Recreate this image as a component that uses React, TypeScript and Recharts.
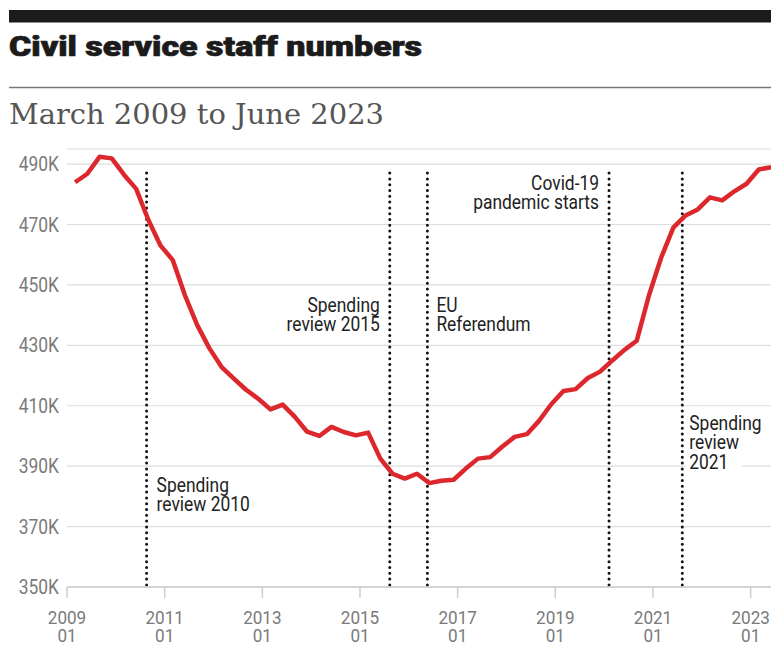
import { CartesianGrid, Line, LineChart, ReferenceLine, XAxis, YAxis } from "recharts";

// quarterly headcount, thousands
const dates = [
  "2009-03", "2009-06", "2009-09", "2009-12",
  "2010-03", "2010-06", "2010-09", "2010-12",
  "2011-03", "2011-06", "2011-09", "2011-12",
  "2012-03", "2012-06", "2012-09", "2012-12",
  "2013-03", "2013-06", "2013-09", "2013-12",
  "2014-03", "2014-06", "2014-09", "2014-12",
  "2015-03", "2015-06", "2015-09", "2015-12",
  "2016-03", "2016-06", "2016-09", "2016-12",
  "2017-03", "2017-06", "2017-09", "2017-12",
  "2018-03", "2018-06", "2018-09", "2018-12",
  "2019-03", "2019-06", "2019-09", "2019-12",
  "2020-03", "2020-06", "2020-09", "2020-12",
  "2021-03", "2021-06", "2021-09", "2021-12",
  "2022-03", "2022-06", "2022-09", "2022-12",
  "2023-03", "2023-06",
];

const staff = [
  484.0, 486.8, 492.4, 491.9,
  486.5, 481.8, 471.5, 463.0,
  458.2, 446.5, 436.7, 429.0,
  422.8, 419.0, 415.3, 412.3,
  408.8, 410.4, 406.3, 401.4,
  400.0, 403.0, 401.3, 400.2,
  401.1, 392.5, 387.5, 385.9,
  387.5, 384.4, 385.2, 385.5,
  389.2, 392.5, 393.0, 396.5,
  399.7, 400.6, 405.0, 410.5,
  414.9, 415.5, 419.2, 421.3,
  425.0, 428.5, 431.5, 446.5,
  459.0, 469.0, 473.0, 475.0,
  479.0, 478.0, 481.0, 483.5,
  488.2, 489.0,
];

const yTicks = [350, 370, 390, 410, 430, 450, 470, 490];
const xTicks = [2009, 2011, 2013, 2015, 2017, 2019, 2021, 2023];

const eventDates = [2010.63, 2015.61, 2016.38, 2020.1, 2021.6];
const eventLabels = [
  ["Spending", "review 2010"],
  ["Spending", "review 2015"],
  ["EU", "Referendum"],
  ["Covid-19", "pandemic starts"],
  ["Spending", "review", "2021"],
];

// label placement: side of the line, offset, first baseline (chart px)
const labelLayout = [
  { anchor: "start", dx: 10, y: 352, bg: false },
  { anchor: "end", dx: -10, y: 171.5, bg: false },
  { anchor: "start", dx: 9, y: 171.5, bg: false },
  { anchor: "end", dx: -10, y: 50, bg: false },
  { anchor: "start", dx: 7, y: 290, bg: true },
];

const toYear = (d: string) => {
  const [y, m] = d.split("-").map(Number);
  return y + (m - 1) / 12;
};

const data = dates.map((d, i) => ({ t: toYear(d), v: staff[i] }));

const sx = 0.87;
const lineColor = "#dc282c";
const tickColor = "#7a7a7a";

const YTick = ({ y, payload }: any) => (
  <text
    transform={`translate(59,${y + 7}) scale(${sx},1)`}
    textAnchor="end"
    fill={tickColor}
    fontFamily="Roboto"
    fontSize={20}
  >
    {`${payload.value}K`}
  </text>
);

const XTick = ({ x, y, payload }: any) => (
  <g>
    <text transform={`translate(${x},${y + 24}) scale(0.9,1)`} textAnchor="middle" fill={tickColor} fontFamily="Roboto" fontSize={19}>
      {payload.value}
    </text>
    <text transform={`translate(${x},${y + 42}) scale(0.9,1)`} textAnchor="middle" fill={tickColor} fontFamily="Roboto" fontSize={19}>
      01
    </text>
  </g>
);

const makeLabel = (i: number) => (props: any) => {
  const lay = labelLayout[i];
  const x = props.viewBox.x + lay.dx;
  const lines = eventLabels[i];
  return (
    <g>
      {lay.bg && <rect x={x - 3} y={lay.y - 17} width={56} height={lines.length * 19.3 + 4} fill="#fff" />}
      {lines.map((s, k) => (
        <text
          key={k}
          transform={`translate(${x},${lay.y + k * 19.3}) scale(${sx},1)`}
          textAnchor={lay.anchor}
          fill="#222"
          fontFamily="Roboto"
          fontSize={20}
        >
          {s}
        </text>
      ))}
    </g>
  );
};

export default function App() {
  return (
    <div style={{ position: "absolute", left: 0, top: 0, width: 771, height: 645, background: "#fff" }}>
      <svg width={771} height={140} style={{ position: "absolute", left: 0, top: 0 }}>
        <rect x={9} y={10} width={762} height={12.5} fill="#1b1b1b" />
        <text
          x={9}
          y={55.5}
          fontFamily="Roboto"
          fontWeight={900}
          fontSize={28}
          fill="#1b1b1b"
          stroke="#1b1b1b"
          strokeWidth={0.7}
          textLength={413}
          lengthAdjust="spacingAndGlyphs"
        >
          Civil service staff numbers
        </text>
        <line x1={9} x2={771} y1={87.5} y2={87.5} stroke="#777" strokeWidth={1.5} />
        <text
          x={9}
          y={124}
          fontFamily="DejaVu Serif"
          fontSize={27}
          fill="#555"
          textLength={375}
          lengthAdjust="spacingAndGlyphs"
        >
          March 2009 to June 2023
        </text>
      </svg>
      <div style={{ position: "absolute", left: 0, top: 140 }}>
        <LineChart width={771} height={505} data={data} margin={{ top: 9, right: 0, bottom: 0, left: 0 }}>
          <CartesianGrid horizontal vertical={false} stroke="#dddddd" strokeWidth={1.2} />
          <YAxis
            type="number"
            domain={[350, 495]}
            ticks={yTicks}
            width={67}
            axisLine={false}
            tickLine={false}
            tick={<YTick />}
          />
          <XAxis
            type="number"
            dataKey="t"
            domain={[2009, 2023.4167]}
            ticks={xTicks}
            height={58}
            tickSize={11}
            tickMargin={2}
            axisLine={{ stroke: "#cccccc", strokeWidth: 1.5 }}
            tickLine={{ stroke: "#cccccc", strokeWidth: 1.5 }}
            tick={<XTick />}
          />
          {eventDates.map((t, i) => (
            <ReferenceLine
              key={t}
              segment={[{ x: t, y: 350.7 }, { x: t, y: 488.7 }]}
              stroke="#111"
              strokeWidth={3}
              strokeDasharray="0 5.8"
              strokeLinecap="round"
              label={makeLabel(i)}
            />
          ))}
          <Line
            type="linear"
            dataKey="v"
            stroke={lineColor}
            strokeWidth={4.5}
            strokeLinejoin="round"
            dot={false}
            isAnimationActive={false}
          />
        </LineChart>
      </div>
    </div>
  );
}
